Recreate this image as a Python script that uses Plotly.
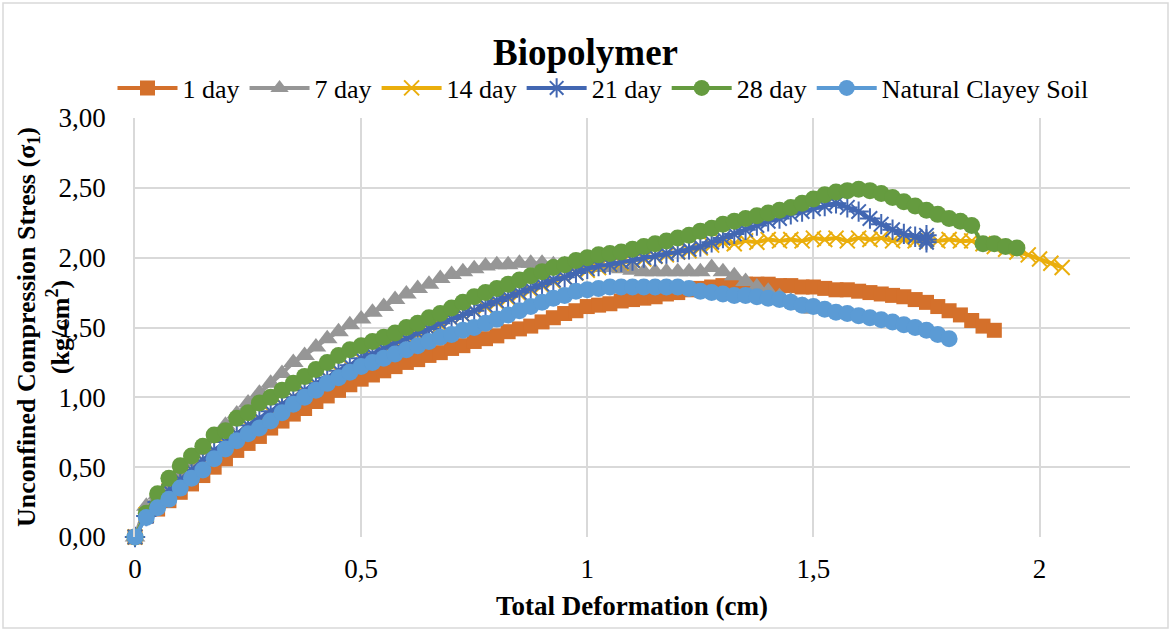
import plotly.graph_objects as go

# Dial-gauge deformation readings (cm), shared by all specimens
deformation = [
    0, 0.025, 0.05, 0.075, 0.1, 0.125, 0.15, 0.175, 0.2, 0.225,
    0.25, 0.275, 0.3, 0.325, 0.35, 0.375, 0.4, 0.425, 0.45, 0.475,
    0.5, 0.525, 0.55, 0.575, 0.6, 0.625, 0.65, 0.675, 0.7, 0.725,
    0.75, 0.775, 0.8, 0.825, 0.85, 0.875, 0.9, 0.925, 0.95, 0.975,
    1.0, 1.025, 1.05, 1.075, 1.1, 1.125, 1.15, 1.175, 1.2, 1.225,
    1.25, 1.275, 1.3, 1.325, 1.35, 1.375, 1.4, 1.425, 1.45, 1.475,
    1.5, 1.525, 1.55, 1.575, 1.6, 1.625, 1.65, 1.675, 1.7, 1.725,
    1.75, 1.775, 1.8, 1.825, 1.85, 1.875, 1.9, 1.925, 1.95, 1.975,
    2.0, 2.025, 2.05,
]

# Unconfined compression stress (kg/cm2) for each curing period
day1 = [
    0, 0.15, 0.20, 0.26, 0.32, 0.38, 0.44, 0.50, 0.56, 0.62,
    0.67, 0.72, 0.78, 0.83, 0.88, 0.92, 0.97, 1.01, 1.05, 1.09,
    1.13, 1.16, 1.19, 1.22, 1.25, 1.27, 1.30, 1.32, 1.35, 1.37,
    1.40, 1.42, 1.44, 1.47, 1.49, 1.51, 1.54, 1.57, 1.60, 1.62,
    1.65, 1.66, 1.67, 1.69, 1.70, 1.71, 1.72, 1.74, 1.75, 1.77,
    1.78, 1.79, 1.80, 1.81, 1.81, 1.81, 1.81, 1.80, 1.80, 1.79,
    1.79, 1.78, 1.77, 1.77, 1.76, 1.75, 1.74, 1.73, 1.72, 1.70,
    1.68, 1.65, 1.62, 1.59, 1.55, 1.51, 1.48,
]
day7 = [
    0, 0.22, 0.30, 0.37, 0.45, 0.54, 0.62, 0.71, 0.80, 0.88,
    0.96, 1.03, 1.10, 1.17, 1.25, 1.30, 1.36, 1.42, 1.47, 1.52,
    1.56, 1.61, 1.65, 1.70, 1.74, 1.78, 1.81, 1.85, 1.88, 1.90,
    1.92, 1.94, 1.95, 1.95, 1.96, 1.96, 1.96, 1.95, 1.95, 1.94,
    1.94, 1.93, 1.93, 1.92, 1.91, 1.90, 1.90, 1.90, 1.90, 1.90,
    1.90, 1.93, 1.90, 1.87, 1.83, 1.79, 1.76, 1.72, 1.69, 1.66,
    1.63,
]
day14 = [
    0, 0.16, 0.25, 0.33, 0.41, 0.48, 0.55, 0.61, 0.67, 0.74,
    0.79, 0.84, 0.89, 0.95, 1.00, 1.04, 1.09, 1.14, 1.18, 1.22,
    1.27, 1.30, 1.34, 1.38, 1.42, 1.45, 1.49, 1.52, 1.56, 1.59,
    1.62, 1.65, 1.68, 1.71, 1.74, 1.77, 1.80, 1.83, 1.86, 1.89,
    1.91, 1.93, 1.95, 1.96, 1.98, 1.99, 2.01, 2.02, 2.04, 2.05,
    2.07, 2.09, 2.11, 2.10, 2.12, 2.11, 2.13, 2.12, 2.13, 2.12,
    2.14, 2.13, 2.14, 2.12, 2.14, 2.13, 2.14, 2.12, 2.13, 2.12,
    2.13, 2.12, 2.13, 2.12, 2.12, 2.10, 2.08, 2.06, 2.04, 2.02,
    1.99, 1.96, 1.93,
]
day21 = [
    0, 0.15, 0.25, 0.33, 0.41, 0.48, 0.55, 0.62, 0.68, 0.74,
    0.80, 0.85, 0.90, 0.95, 1.00, 1.05, 1.10, 1.14, 1.19, 1.23,
    1.28, 1.31, 1.35, 1.39, 1.42, 1.46, 1.49, 1.53, 1.56, 1.59,
    1.62, 1.66, 1.69, 1.72, 1.75, 1.78, 1.81, 1.84, 1.86, 1.89,
    1.92, 1.94, 1.95, 1.97, 1.98, 2.00, 2.01, 2.03, 2.04, 2.06,
    2.08, 2.11, 2.14, 2.17, 2.20, 2.23, 2.26, 2.28, 2.31, 2.33,
    2.35, 2.37, 2.39, 2.36, 2.33, 2.28, 2.24, 2.20, 2.17, 2.15,
    2.13,
]
# repeated readings at the last deformation step of the 21 day specimen
day21_tail_x = [1.75, 1.75]
day21_tail_y = [2.16, 2.11]
day28 = [
    0, 0.17, 0.31, 0.42, 0.51, 0.58, 0.65, 0.73, 0.76, 0.85,
    0.89, 0.96, 1.00, 1.05, 1.10, 1.15, 1.20, 1.25, 1.30, 1.34,
    1.37, 1.40, 1.43, 1.46, 1.50, 1.53, 1.57, 1.60, 1.64, 1.68,
    1.72, 1.75, 1.78, 1.81, 1.84, 1.87, 1.90, 1.93, 1.95, 1.98,
    2.00, 2.02, 2.03, 2.04, 2.06, 2.08, 2.10, 2.12, 2.14, 2.16,
    2.19, 2.21, 2.24, 2.26, 2.28, 2.30, 2.32, 2.34, 2.36, 2.39,
    2.42, 2.45, 2.47, 2.48, 2.49, 2.48, 2.46, 2.43, 2.40, 2.37,
    2.34, 2.31, 2.28, 2.26, 2.23, 2.10, 2.10, 2.08, 2.07,
]
natural = [
    0, 0.14, 0.21, 0.27, 0.35, 0.42, 0.48, 0.56, 0.63, 0.69,
    0.74, 0.78, 0.83, 0.89, 0.95, 1.00, 1.05, 1.10, 1.14, 1.18,
    1.22, 1.25, 1.28, 1.31, 1.34, 1.37, 1.40, 1.43, 1.45, 1.48,
    1.50, 1.53, 1.56, 1.59, 1.62, 1.65, 1.68, 1.71, 1.73, 1.76,
    1.77, 1.78, 1.79, 1.79, 1.79, 1.79, 1.79, 1.79, 1.79, 1.78,
    1.76, 1.75, 1.74, 1.73, 1.73, 1.72, 1.71, 1.70, 1.68, 1.66,
    1.65, 1.63, 1.61, 1.60, 1.585, 1.57, 1.555, 1.54, 1.52, 1.50,
    1.48, 1.45, 1.42,
]

x_tick_vals = [0, 0.5, 1, 1.5, 2]
x_tick_text = ["0", "0,5", "1", "1,5", "2"]
y_tick_vals = [0, 0.5, 1, 1.5, 2, 2.5, 3]
y_tick_text = ["0,00", "0,50", "1,00", "1,50", "2,00", "2,50", "3,00"]

FONT = "Liberation Serif"

series = [
    ("1 day", deformation[:len(day1)], day1, "#D4702B", "square", 15, 0),
    ("7 day", deformation[:len(day7)], day7, "#969696", "triangle-up", 18, 0),
    ("14 day", deformation[:len(day14)], day14, "#EAAE0C", "x-thin-open", 15, 2),
    ("21 day", deformation[:len(day21)] + day21_tail_x, day21 + day21_tail_y,
     "#4267B2", "asterisk-open", 17, 2),
    ("28 day", deformation[:len(day28)], day28, "#659B3F", "circle", 17, 0),
    ("Natural Clayey Soil", deformation[:len(natural)], natural, "#5B9BD5", "circle", 17, 0),
]

fig = go.Figure()
for name, xs, ys, color, symbol, size, mlw in series:
    marker = dict(symbol=symbol, size=size, color=color)
    if mlw:
        marker["line"] = dict(color=color, width=mlw)
    else:
        marker["line"] = dict(width=0)
    fig.add_trace(go.Scatter(
        x=xs, y=ys, name=name, mode="lines+markers",
        line=dict(color=color, width=4, shape="spline", smoothing=0.6),
        marker=marker, cliponaxis=False,
    ))

L, R, T, B = 135, 41, 118, 94
W, H = 1171, 631
pw, ph = W - L - R, H - T - B


def px_x(p):
    return (p - L) / pw


def px_y(p):
    return (H - B - p) / ph


fig.update_layout(
    width=W, height=H,
    margin=dict(l=L, r=R, t=T, b=B),
    paper_bgcolor="white", plot_bgcolor="white",
    font=dict(family=FONT, size=27, color="#000000"),
    title=dict(text="<b>Biopolymer</b>", x=0.5, xref="container", xanchor="center",
               y=1 - 52 / H, yanchor="middle",
               font=dict(family=FONT, size=37, color="#000000")),
    showlegend=True,
    legend=dict(orientation="h", x=px_x(603), xanchor="center",
                y=px_y(88), yanchor="middle",
                font=dict(family=FONT, size=26, color="#000000"),
                itemwidth=60, tracegroupgap=0, bgcolor="rgba(0,0,0,0)"),
    xaxis=dict(range=[0, 2.2], tickvals=x_tick_vals, ticktext=x_tick_text,
               showgrid=True, gridcolor="#D9D9D9", gridwidth=1.5,
               zeroline=False, showline=False, ticks="",
               ticklabelstandoff=13,
               tickfont=dict(family=FONT, size=27, color="#000000")),
    yaxis=dict(range=[0, 3], tickvals=y_tick_vals, ticktext=y_tick_text,
               showgrid=True, gridcolor="#D9D9D9", gridwidth=1.5,
               zeroline=False, showline=True, linecolor="#D9D9D9", linewidth=1.5,
               ticks="", ticklabelstandoff=22,
               tickfont=dict(family=FONT, size=27, color="#000000")),
    annotations=[
        dict(text="<b>Total Deformation (cm)</b>", xref="paper", yref="paper",
             x=px_x(632), y=px_y(606), xanchor="center", yanchor="middle",
             showarrow=False, font=dict(family=FONT, size=27, color="#000000")),
        dict(text="<b>Unconfined Compression Stress (σ<sub>1</sub>)<br>(kg/cm<sup>2</sup>)</b>",
             xref="paper", yref="paper", x=px_x(43), y=px_y(327),
             xanchor="center", yanchor="middle", textangle=-90, showarrow=False,
             font=dict(family=FONT, size=26, color="#000000")),
    ],
    shapes=[
        dict(type="rect", xref="paper", yref="paper",
             x0=px_x(3), x1=px_x(1168), y0=px_y(628), y1=px_y(3),
             line=dict(color="#D9D9D9", width=1.5), layer="below"),
    ],
)

fig.write_html("out.html")
